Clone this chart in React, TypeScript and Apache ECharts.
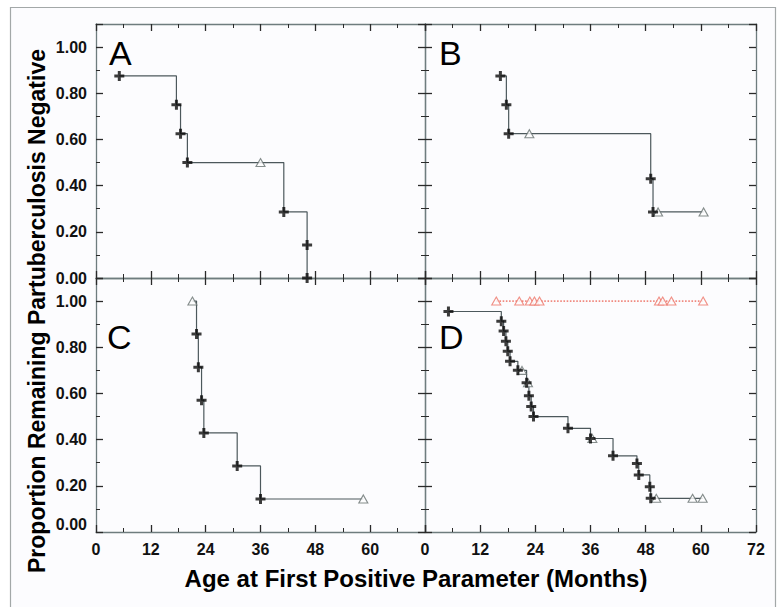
import React, { useEffect, useRef } from "react";
import * as echarts from "echarts";

// ---- Data (months, proportion, censored flag 1 = triangle) ----
const aTime = [5.1, 17.6, 18.5, 20.0, 36.0, 41.1, 46.2, 46.2];
const aSurv = [0.875, 0.75, 0.625, 0.5, 0.5, 0.286, 0.143, 0];
const aCens = [0, 0, 0, 0, 1, 0, 0, 0];

const bTime = [16.4, 17.7, 18.2, 22.7, 49.1, 49.6, 50.7, 60.6];
const bSurv = [0.875, 0.75, 0.625, 0.625, 0.43, 0.286, 0.286, 0.286];
const bCens = [0, 0, 0, 1, 0, 0, 1, 1];

const cTime = [21.1, 22.0, 22.4, 23.1, 23.6, 30.9, 36.0, 58.5];
const cSurv = [1.0, 0.857, 0.714, 0.571, 0.429, 0.286, 0.143, 0.143];
const cCens = [1, 0, 0, 0, 0, 0, 0, 1];

const dTime = [5.1, 16.6, 17.1, 17.6, 18.0, 18.5, 20.2, 21.1, 22.1, 22.4, 22.6, 23.1, 23.6, 31.1, 36.0, 36.4, 40.9, 46.1, 46.5, 48.9, 49.1, 50.3, 58.2, 60.4];
const dSurv = [0.955, 0.913, 0.87, 0.826, 0.783, 0.739, 0.7, 0.7, 0.646, 0.646, 0.59, 0.543, 0.5, 0.449, 0.405, 0.405, 0.33, 0.297, 0.247, 0.196, 0.146, 0.146, 0.146, 0.146];
const dCens = [0, 0, 0, 0, 0, 0, 0, 1, 0, 1, 0, 0, 0, 0, 0, 1, 0, 0, 0, 0, 0, 1, 1, 1];

const dRedTime = [15.5, 20.5, 22.8, 23.8, 24.9, 50.9, 51.7, 53.6, 60.5];
const dRedSurv = [1, 1, 1, 1, 1, 1, 1, 1, 1];

const panelLetters = ["A", "B", "C", "D"];
const xTitle = "Age at First Positive Parameter (Months)";
const yTitle = "Proportion Remaining Partuberculosis Negative";

const CROSS = "path://M3.5,0h3v3.5h3.5v3h-3.5v3.5h-3v-3.5h-3.5v-3h3.5z";

export default function App() {
  const ref = useRef<HTMLDivElement>(null);
  useEffect(() => {
    document.body.style.margin = "0";
    const chart = echarts.init(ref.current!, undefined, { renderer: "svg" });

    const grids = [
      { left: 96, top: 24, width: 329, height: 254 },
      { left: 425, top: 24, width: 331, height: 254 },
      { left: 96, top: 278, width: 329, height: 254 },
      { left: 425, top: 278, width: 331, height: 254 },
    ];
    const axisColor = "#6e7c7e";
    const tickColor = "#2a2a2a";

    const xAxes: any[] = [];
    const yAxes: any[] = [];
    grids.forEach((_, g) => {
      const common = {
        type: "value",
        gridIndex: g,
        min: 0,
        max: 72,
        interval: 12,
        splitLine: { show: false },
        axisLine: { show: true, onZero: false, lineStyle: { color: axisColor, width: 1.3 } },
        axisTick: { show: true, inside: true, length: 7, lineStyle: { color: tickColor, width: 1.3 } },
        minorTick: { show: true, splitNumber: 2, length: 4, lineStyle: { color: tickColor, width: 1 } },
      };
      xAxes.push({
        ...common,
        position: "bottom",
        axisLabel: {
          show: g >= 2,
          margin: 9,
          color: "#111",
          fontFamily: "Liberation Sans",
          fontWeight: "bold",
          fontSize: 16,
          formatter: (v: number) => (g === 2 && v > 70 ? "" : String(v)),
        },
      });
      xAxes.push({ ...common, position: "top", axisLabel: { show: false } });
      const ycommon = {
        type: "value",
        gridIndex: g,
        min: 0,
        max: 1.1,
        interval: 0.2,
        splitLine: { show: false },
        axisLine: { show: true, onZero: false, lineStyle: { color: axisColor, width: 1.3 } },
        axisTick: { show: true, inside: true, length: 7, lineStyle: { color: tickColor, width: 1.3 } },
        minorTick: { show: true, splitNumber: 2, length: 4, lineStyle: { color: tickColor, width: 1 } },
      };
      const yLabel: any = {
        show: g % 2 === 0,
        margin: 9,
        color: "#111",
        fontFamily: "Liberation Sans",
        fontWeight: "bold",
        fontSize: 16,
        formatter: (v: number) => (v > 1.001 ? "" : v.toFixed(2)),
      };
      if (g === 2) yLabel.verticalAlignMinLabel = "bottom";
      yAxes.push({ ...ycommon, position: "left", axisLabel: yLabel });
      yAxes.push({ ...ycommon, position: "right", axisLabel: { show: false } });
    });

    const panels = [
      { t: aTime, s: aSurv, c: aCens },
      { t: bTime, s: bSurv, c: bCens },
      { t: cTime, s: cSurv, c: cCens },
      { t: dTime, s: dSurv, c: dCens },
    ];
    const series: any[] = [];
    panels.forEach((p, g) => {
      const pts = p.t.map((t, i) => [t, p.s[i]]);
      series.push({
        type: "line",
        xAxisIndex: 2 * g,
        yAxisIndex: 2 * g,
        step: "end",
        data: pts,
        symbol: "none",
        lineStyle: { color: "#4c585c", width: 1.2 },
        z: 2,
      });
      series.push({
        type: "scatter",
        xAxisIndex: 2 * g,
        yAxisIndex: 2 * g,
        data: pts.filter((_, i) => p.c[i] === 1),
        symbol: "triangle",
        symbolSize: [9, 8],
        itemStyle: { color: "#fdfdfe", borderColor: "#66706f", borderWidth: 1.1 },
        z: 3,
      });
      series.push({
        type: "scatter",
        xAxisIndex: 2 * g,
        yAxisIndex: 2 * g,
        data: pts.filter((_, i) => p.c[i] === 0),
        symbol: CROSS,
        symbolSize: 10,
        itemStyle: { color: "#0a0a0a" },
        z: 4,
      });
    });
    const redPts = dRedTime.map((t, i) => [t, dRedSurv[i]]);
    series.push({
      type: "line",
      xAxisIndex: 6,
      yAxisIndex: 6,
      data: redPts,
      symbol: "none",
      lineStyle: { color: "#f08a80", width: 1.6, type: "dotted" },
      z: 2,
    });
    series.push({
      type: "scatter",
      xAxisIndex: 6,
      yAxisIndex: 6,
      data: redPts,
      symbol: "triangle",
      symbolSize: [9, 8],
      itemStyle: { color: "#fdfdfe", borderColor: "#ee7468", borderWidth: 1.1 },
      z: 3,
    });

    const letterPos = [
      [109, 36],
      [439, 36],
      [107, 320],
      [439, 320],
    ];
    const graphic: any[] = [
      {
        type: "rect",
        shape: { x: 10.5, y: 7.5, width: 765, height: 620 },
        style: { fill: "#fcfcfe", stroke: "#a3a8a8", lineWidth: 1.2 },
        z: -10,
        silent: true,
      },
      ...panelLetters.map((L, i) => ({
        type: "text",
        x: letterPos[i][0],
        y: letterPos[i][1],
        style: { text: L, font: "normal 34px 'Liberation Sans', Arial, sans-serif", fill: "#000" },
        z: 10,
      })),
      {
        type: "text",
        x: 416,
        y: 578,
        style: {
          text: xTitle,
          font: "bold 24px 'Liberation Sans', Arial, sans-serif",
          fill: "#000",
          textAlign: "center",
          textVerticalAlign: "middle",
        },
      },
      {
        type: "text",
        x: 37,
        y: 311,
        rotation: Math.PI / 2,
        style: {
          text: yTitle,
          font: "bold 23px 'Liberation Sans', Arial, sans-serif",
          fill: "#000",
          textAlign: "center",
          textVerticalAlign: "middle",
        },
      },
    ];

    chart.setOption({
      animation: false,
      backgroundColor: "#ffffff",
      grid: grids,
      xAxis: xAxes,
      yAxis: yAxes,
      series,
      graphic,
    });
    return () => chart.dispose();
  }, []);
  return <div ref={ref} style={{ width: 780, height: 607 }} />;
}
